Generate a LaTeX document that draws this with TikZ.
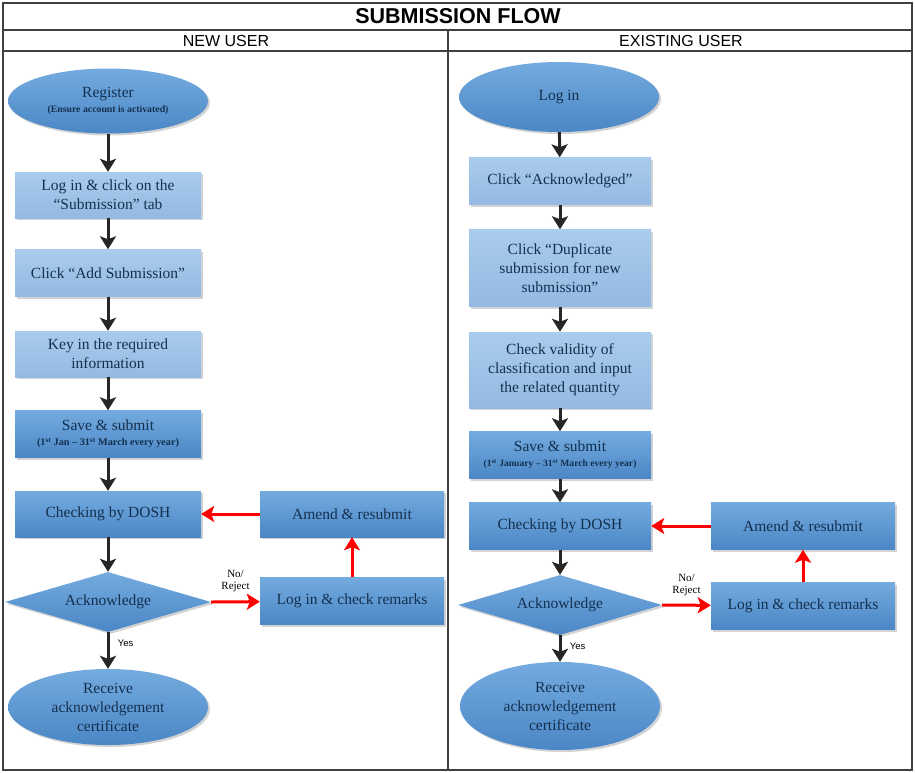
\documentclass[tikz,border=0pt]{standalone}
\usepackage{fontspec}
\setmainfont{Liberation Serif}
\setsansfont{Liberation Sans}
\usetikzlibrary{arrows.meta,positioning,shapes.geometric,shadows}
\definecolor{txtblue}{HTML}{14304F}
\definecolor{lighttop}{HTML}{A9CBEC}
\definecolor{lightbot}{HTML}{94BAE2}
\definecolor{darktop}{HTML}{74ABDF}
\definecolor{darkbot}{HTML}{4B87C6}
\definecolor{gridgray}{HTML}{404040}

\begin{document}
\begin{tikzpicture}[x=1pt,y=-1pt,>={Stealth[length=13pt,width=16pt,inset=3pt]},
    box/.style={minimum width=186pt,minimum height=46pt,inner sep=2pt,align=center,%
      text=txtblue,font=\fontsize{15.5}{19}\selectfont,%
      drop shadow={shadow xshift=2pt,shadow yshift=-2pt,opacity=.35}},
    lightbox/.style={box,top color=lighttop,bottom color=lightbot},
    darkbox/.style={box,top color=darktop,bottom color=darkbot},
    oval/.style={ellipse,box,minimum width=200pt,top color=darktop,bottom color=darkbot},
    decide/.style={diamond,box,aspect=3.4,minimum width=206pt,minimum height=60pt,%
      inner sep=0pt,top color=darktop,bottom color=darkbot},
    flow/.style={->,line width=3pt,black!85},
    back/.style={->,line width=3pt,red},
    small/.style={font=\fontsize{11}{12}\selectfont,align=center,inner sep=1pt,text=black}]
  \useasboundingbox (0,0) rectangle (915,772);

  % table frame
  \draw[line width=1.2pt,gridgray] (3,3) rectangle (912,770);
  \draw[line width=1.2pt,gridgray] (3,30) -- (912,30) (3,51) -- (912,51) (448,30) -- (448,770);
  \node[font=\sffamily\bfseries\fontsize{21.5}{22}\selectfont] (title) at (458,16) {SUBMISSION FLOW};
  \node[font=\sffamily\fontsize{16}{17}\selectfont] (newhd) at (226,41) {NEW USER};
  \node[font=\sffamily\fontsize{16}{17}\selectfont] (exhd) at (681,41) {EXISTING USER};

  % new user
  \node[oval,minimum height=65pt] (reg) at (108,101)
    {Register\\[-4pt]{\bfseries\fontsize{9.8}{11}\selectfont (Ensure account is activated)}};
  \node[lightbox] (login) at (108,195) {Log in \& click on the\\``Submission'' tab};
  \node[lightbox,minimum height=47pt] (addsub) at (108,273) {Click ``Add Submission''};
  \node[lightbox] (keyin) at (108,354) {Key in the required\\information};
  \node[darkbox,minimum height=47pt] (save) at (108,434)
    {Save \& submit\\[-4pt]{\bfseries\fontsize{10.2}{12}\selectfont
      (1\textsuperscript{st} Jan -- 31\textsuperscript{st} March every year)}};
  \node[darkbox] (check) at (108,514) {Checking by DOSH};
  \node[decide] (ack) at (108,602) {Acknowledge};
  \node[oval,minimum height=76pt] (receive) at (108,707) {Receive\\acknowledgement\\certificate};
  \node[darkbox,minimum width=184pt] (amend) at (352,514) {Amend \& resubmit};
  \node[darkbox,minimum width=184pt,minimum height=47pt] (remarks) at (352,601)
    {Log in \& check remarks};

  \draw[flow] (reg) -- (login);
  \draw[flow] (login) -- (addsub);
  \draw[flow] (addsub) -- (keyin);
  \draw[flow] (keyin) -- (save);
  \draw[flow] (save) -- (check);
  \draw[flow] (check) -- (ack.north);
  \draw[flow] (ack.south) -- (receive)
    node[pos=.3,right=5pt,text=black,font=\sffamily\fontsize{9.5}{10}\selectfont] (yesa) {Yes};
  \draw[back] (ack.east) -- (remarks)
    node[midway,above=7pt,small] (noa) {No/\\Reject};
  \draw[back] (remarks) -- (amend);
  \draw[back] (amend) -- (check);

  % existing user
  \node[oval,minimum height=70pt] (login2) at (559,97) {Log in};
  \node[lightbox,minimum width=182pt,minimum height=47pt] (ackd) at (560,181)
    {Click ``Acknowledged''};
  \node[lightbox,minimum width=182pt,minimum height=77pt] (dup) at (560,268)
    {Click ``Duplicate\\submission for new\\submission''};
  \node[lightbox,minimum width=182pt,minimum height=76pt] (valid) at (560,370)
    {Check validity of\\classification and input\\the related quantity};
  \node[darkbox,minimum width=182pt,minimum height=47pt] (save2) at (560,455)
    {Save \& submit\\[-4pt]{\bfseries\fontsize{9.6}{11}\selectfont
      (1\textsuperscript{st} January -- 31\textsuperscript{st} March every year)}};
  \node[darkbox,minimum width=182pt,minimum height=47pt] (check2) at (560,526)
    {Checking by DOSH};
  \node[decide,minimum width=204pt] (ack2) at (560,605) {Acknowledge};
  \node[oval,minimum height=88pt] (receive2) at (560,706) {Receive\\acknowledgement\\certificate};
  \node[darkbox,minimum width=184pt,minimum height=47pt] (amend2) at (803,526) {Amend \& resubmit};
  \node[darkbox,minimum width=184pt,minimum height=47pt] (remarks2) at (803,606)
    {Log in \& check remarks};

  \draw[flow] (login2) -- (ackd);
  \draw[flow] (ackd) -- (dup);
  \draw[flow] (dup) -- (valid);
  \draw[flow] (valid) -- (save2);
  \draw[flow] (save2) -- (check2);
  \draw[flow] (check2) -- (ack2.north);
  \draw[flow] (ack2.south) -- (receive2)
    node[pos=.4,right=5pt,text=black,font=\sffamily\fontsize{9.5}{10}\selectfont] (yesb) {Yes};
  \draw[back] (ack2.east) -- (remarks2)
    node[midway,above=7pt,small] (nob) {No/\\Reject};
  \draw[back] (remarks2) -- (amend2);
  \draw[back] (amend2) -- (check2);
\end{tikzpicture}
\end{document}
